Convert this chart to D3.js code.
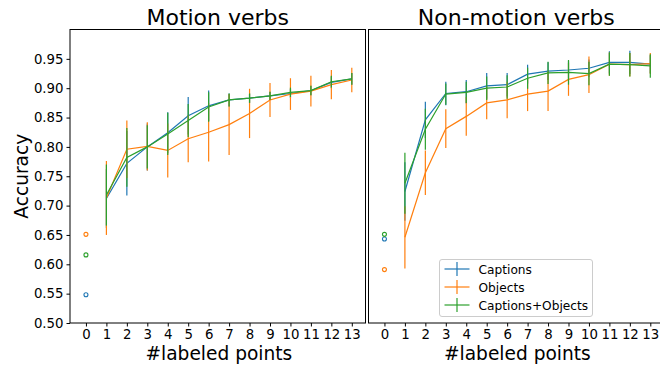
<!DOCTYPE html>
<html>
<head>
<meta charset="utf-8">
<script src="https://cdn.jsdelivr.net/npm/d3@7"></script>
<style>
  body { margin: 0; background: #fff; }
  text { font-family: "DejaVu Sans", sans-serif; fill: #000; }
</style>
</head>
<body>
<div class="chart"></div>
<script>
// data
let xPoints = [1, 2, 3, 4, 5, 6, 7, 8, 9, 10, 11, 12, 13];
let xTicks = [0, 1, 2, 3, 4, 5, 6, 7, 8, 9, 10, 11, 12, 13];
let yTicks = [0.50, 0.55, 0.60, 0.65, 0.70, 0.75, 0.80, 0.85, 0.90, 0.95];
let seriesNames = ["Captions", "Objects", "Captions+Objects"];
let colors = ["#1f77b4", "#ff7f0e", "#2ca02c"];

// Motion verbs
let motionBase = [0.548, 0.651, 0.616];
let motionCaptions = [0.712, 0.772, 0.800, 0.824, 0.853, 0.870, 0.880, 0.883, 0.887, 0.891, 0.896, 0.910, 0.916];
let motionCaptionsErr = [0.050, 0.055, 0.040, 0.035, 0.032, 0.026, 0.011, 0.008, 0.007, 0.008, 0.008, 0.010, 0.010];
let motionObjects = [0.713, 0.796, 0.801, 0.794, 0.814, 0.825, 0.838, 0.857, 0.880, 0.890, 0.895, 0.906, 0.914];
let motionObjectsErr = [0.063, 0.049, 0.041, 0.046, 0.040, 0.050, 0.052, 0.042, 0.029, 0.027, 0.026, 0.025, 0.021];
let motionBoth = [0.718, 0.782, 0.800, 0.822, 0.845, 0.868, 0.880, 0.883, 0.887, 0.893, 0.896, 0.911, 0.916];
let motionBothErr = [0.052, 0.050, 0.037, 0.036, 0.028, 0.025, 0.011, 0.008, 0.007, 0.008, 0.008, 0.010, 0.010];

// Non-motion verbs
let nonMotionBase = [0.643, 0.591, 0.651];
let nonMotionCaptions = [0.724, 0.846, 0.891, 0.894, 0.904, 0.906, 0.924, 0.929, 0.931, 0.934, 0.944, 0.944, 0.941];
let nonMotionCaptionsErr = [0.050, 0.031, 0.020, 0.020, 0.022, 0.020, 0.016, 0.015, 0.015, 0.015, 0.019, 0.020, 0.015];
let nonMotionObjects = [0.646, 0.756, 0.831, 0.852, 0.875, 0.880, 0.890, 0.895, 0.915, 0.923, 0.941, 0.940, 0.942];
let nonMotionObjectsErr = [0.053, 0.038, 0.033, 0.033, 0.028, 0.031, 0.029, 0.034, 0.028, 0.031, 0.020, 0.020, 0.018];
let nonMotionBoth = [0.738, 0.830, 0.890, 0.893, 0.900, 0.902, 0.917, 0.926, 0.927, 0.925, 0.941, 0.940, 0.938];
let nonMotionBothErr = [0.052, 0.035, 0.018, 0.018, 0.020, 0.020, 0.018, 0.019, 0.021, 0.020, 0.020, 0.020, 0.020];

let svgWidth = 660;
let svgHeight = 368;

let svg = d3.select(".chart")
  .append("svg")
  .attr("width", svgWidth)
  .attr("height", svgHeight);

let plotTop = 29.5;
let plotBottom = 323;
let panelWidth = 295.5;

let yScale = d3.scaleLinear()
  .domain([0.5, 1.0])
  .range([plotBottom, plotTop]);

function drawPanel(left, title, base, vals, errs, showY) {
  let x = d3.scaleLinear()
    .domain([-0.78, 13.67])
    .range([left, left + panelWidth]);

  let g = svg.append("g");

  // series with error bars
  vals.forEach(function(series, s) {
    let sg = g.append("g");
    let pts = xPoints.map((d, i) => ({x: d, y: series[i], e: errs[s][i]}));
    sg.selectAll("line.err")
      .data(pts)
      .enter()
      .append("line")
      .attr("x1", d => x(d.x))
      .attr("x2", d => x(d.x))
      .attr("y1", d => yScale(d.y - d.e))
      .attr("y2", d => yScale(d.y + d.e))
      .attr("stroke", colors[s])
      .attr("stroke-width", 1.2);
    sg.append("path")
      .datum(pts)
      .attr("fill", "none")
      .attr("stroke", colors[s])
      .attr("stroke-width", 1.2)
      .attr("d", d3.line().x(d => x(d.x)).y(d => yScale(d.y)));
  });

  // baseline at 0 labeled points
  g.selectAll("circle")
    .data(base)
    .enter()
    .append("circle")
    .attr("cx", x(0))
    .attr("cy", d => yScale(d))
    .attr("r", 2)
    .attr("fill", "none")
    .attr("stroke", (d, i) => colors[i])
    .attr("stroke-width", 1.1);

  // frame
  g.append("rect")
    .attr("x", left)
    .attr("y", plotTop)
    .attr("width", panelWidth)
    .attr("height", plotBottom - plotTop)
    .attr("fill", "none")
    .attr("stroke", "#000")
    .attr("stroke-width", 1);

  let bottomAxis = d3.axisBottom(x).tickValues(xTicks).tickSize(3.5).tickPadding(3);
  let xAxis = g.append("g")
    .attr("transform", `translate(0, ${plotBottom})`)
    .call(bottomAxis);
  xAxis.select(".domain").remove();
  xAxis.selectAll("text").attr("font-size", 13.3).style("font-family", "DejaVu Sans");

  if (showY) {
    let leftAxis = d3.axisLeft(yScale).tickValues(yTicks).tickFormat(d3.format(".2f")).tickSize(3.5).tickPadding(3);
    let yAxis = g.append("g")
      .attr("transform", `translate(${left}, 0)`)
      .call(leftAxis);
    yAxis.select(".domain").remove();
    yAxis.selectAll("text").attr("font-size", 13.3).style("font-family", "DejaVu Sans");
  }

  g.append("text")
    .attr("x", left + panelWidth / 2)
    .attr("y", 25)
    .attr("text-anchor", "middle")
    .attr("font-size", 22)
    .text(title);

  g.append("text")
    .attr("x", x(6.5))
    .attr("y", 360)
    .attr("text-anchor", "middle")
    .attr("font-size", 18.6)
    .text("#labeled points");

  return x;
}

drawPanel(70, "Motion verbs", motionBase,
  [motionCaptions, motionObjects, motionBoth],
  [motionCaptionsErr, motionObjectsErr, motionBothErr], true);

drawPanel(368.5, "Non-motion verbs", nonMotionBase,
  [nonMotionCaptions, nonMotionObjects, nonMotionBoth],
  [nonMotionCaptionsErr, nonMotionObjectsErr, nonMotionBothErr], false);

// y axis label
svg.append("text")
  .attr("transform", `translate(28, ${(plotTop + plotBottom) / 2}) rotate(-90)`)
  .attr("text-anchor", "middle")
  .attr("font-size", 18.6)
  .text("Accuracy");

// legend
let legend = svg.append("g").attr("transform", "translate(439.5, 259.5)");
legend.append("rect")
  .attr("width", 153)
  .attr("height", 57)
  .attr("rx", 2.5)
  .attr("fill", "#fff")
  .attr("fill-opacity", 0.8)
  .attr("stroke", "#ccc")
  .attr("stroke-width", 1);

seriesNames.forEach(function(name, i) {
  let cy = 9.5 + i * 18;
  legend.append("line")
    .attr("x1", 5).attr("x2", 30)
    .attr("y1", cy).attr("y2", cy)
    .attr("stroke", colors[i]).attr("stroke-width", 1.2);
  legend.append("line")
    .attr("x1", 17.5).attr("x2", 17.5)
    .attr("y1", cy - 7).attr("y2", cy + 7)
    .attr("stroke", colors[i]).attr("stroke-width", 1.2);
  legend.append("text")
    .attr("x", 39)
    .attr("y", cy + 4.5)
    .attr("font-size", 12.2)
    .text(name);
});
</script>
</body>
</html>
